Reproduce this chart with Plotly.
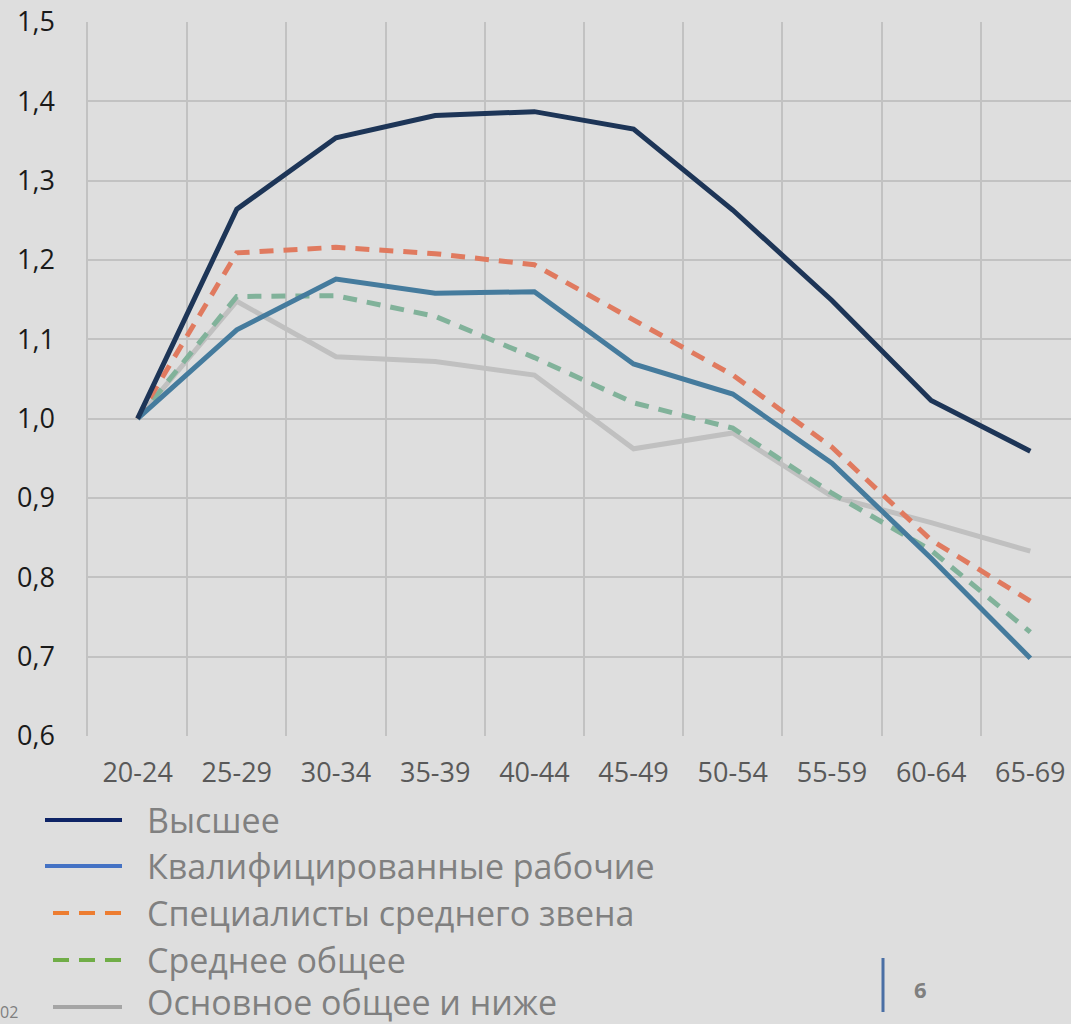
import plotly.graph_objects as go

categories = ["20-24", "25-29", "30-34", "35-39", "40-44", "45-49", "50-54", "55-59", "60-64", "65-69"]

higher = [1.0, 1.264, 1.354, 1.382, 1.387, 1.365, 1.263, 1.149, 1.023, 0.959]
skilled_workers = [1.0, 1.112, 1.176, 1.158, 1.160, 1.069, 1.031, 0.944, 0.824, 0.698]
mid_specialists = [1.0, 1.209, 1.216, 1.208, 1.194, 1.124, 1.055, 0.964, 0.847, 0.770]
secondary_general = [1.0, 1.154, 1.155, 1.129, 1.077, 1.020, 0.988, 0.906, 0.834, 0.731]
basic_general = [1.0, 1.148, 1.078, 1.072, 1.055, 0.962, 0.982, 0.902, 0.869, 0.833]

series_names = ["Высшее", "Квалифицированные рабочие", "Специалисты среднего звена",
                "Среднее общее", "Основное общее и ниже"]
series_values = [higher, skilled_workers, mid_specialists, secondary_general, basic_general]
line_colors = ["#1d3557", "#457b9d", "#e07a5f", "#81b29a", "#c0c0c0"]
line_dashes = ["solid", "solid", "14px,10px", "14px,10px", "solid"]
legend_colors = ["#0e2466", "#4472c4", "#ed7d31", "#70ad47", "#a5a5a5"]

W, H = 1071, 1024
L, T, B = 88, 22, 736

def px(X):
    return (X - L) / (W - L)

def py(Y):
    return (B - Y) / (B - T)

fig = go.Figure()
for name, vals, col, dash in reversed(list(zip(series_names, series_values, line_colors, line_dashes))):
    fig.add_trace(go.Scatter(x=categories, y=vals, mode="lines", name=name,
                             line=dict(color=col, width=5, dash=dash),
                             showlegend=False))

font_main = "Open Sans, Lato, DejaVu Sans, sans-serif"
grid_col = "#c2c2c2"
bg = "#dedede"

fig.update_layout(
    width=W, height=H,
    margin=dict(l=L, r=0, t=T, b=H - B),
    paper_bgcolor=bg,
    plot_bgcolor=bg,
    separators=", ",
    font=dict(family=font_main),
    xaxis=dict(type="category", range=[-0.5, 9.41], tickson="boundaries",
               showgrid=True, gridcolor=grid_col, gridwidth=1.5,
               ticks="", tickfont=dict(size=27, color="#595959"),
               ticklabelstandoff=18, showline=False, zeroline=False),
    yaxis=dict(range=[0.6, 1.5], dtick=0.1, tickformat=".1f",
               showgrid=True, gridcolor=grid_col, gridwidth=1.5,
               showline=True, linecolor=grid_col, linewidth=1.5,
               ticks="", tickfont=dict(size=27, color="#1a1a1a"),
               ticklabelstandoff=26, zeroline=False),
)

legend_rows = [820, 866, 913, 960, 1002]
for name, col, dash, Y in zip(series_names, legend_colors, line_dashes, legend_rows):
    x0 = 45 if dash == "solid" and col != "#a5a5a5" else 53
    line_y = Y + 5 if Y == legend_rows[-1] else Y
    fig.add_shape(type="line", xref="paper", yref="paper",
                  x0=px(x0), x1=px(122), y0=py(line_y), y1=py(line_y),
                  line=dict(color=col, width=4, dash=("16px,10px" if dash != "solid" else "solid")))
    fig.add_annotation(text=name, xref="paper", yref="paper", x=px(145), y=py(Y),
                       xanchor="left", yanchor="middle", showarrow=False,
                       font=dict(size=34, color="#808080", family=font_main))

fig.add_shape(type="line", xref="paper", yref="paper", x0=px(883), x1=px(883),
              y0=py(958), y1=py(1012), line=dict(color="#4a6fa5", width=3))
fig.add_annotation(text="<b>6</b>", xref="paper", yref="paper", x=px(920), y=py(989),
                   xanchor="center", yanchor="middle", showarrow=False,
                   font=dict(size=22, color="#7f7f7f", family=font_main))
fig.add_annotation(text="02", xref="paper", yref="paper", x=px(-2), y=py(999),
                   xanchor="left", yanchor="top", showarrow=False,
                   font=dict(size=16, color="#7f7f7f", family=font_main))

fig.write_html("out.html",
               config={"displayModeBar": False},
               post_script="document.body.style.margin='0';document.body.style.background='#dedede';document.body.style.overflow='hidden';")
